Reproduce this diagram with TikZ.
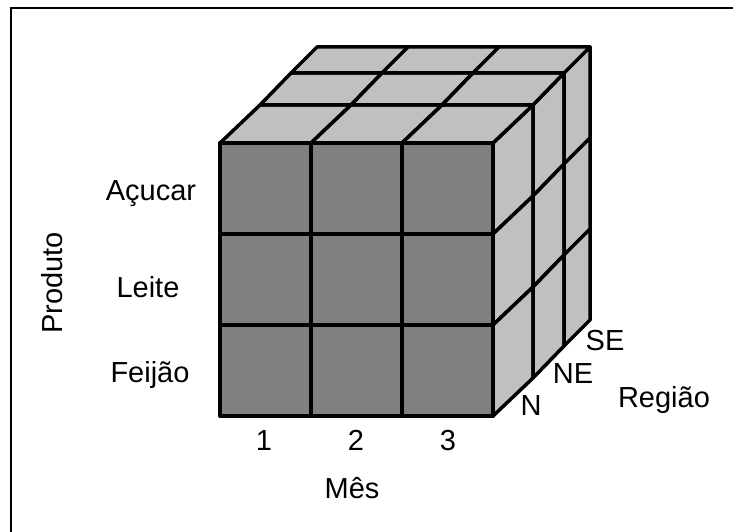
\documentclass[tikz,border=0pt]{standalone}
\usepackage{fontspec}
\setmainfont{Liberation Sans}
\definecolor{frontgray}{HTML}{808080}
\definecolor{facegray}{HTML}{C0C0C0}

\begin{document}
\begin{tikzpicture}[
        x = 1pt, y = -1pt,
   cell/.style = {draw, line width=3.5pt, line join=round},
  front/.style = {cell, line width=4.5pt, fill=frontgray},
   face/.style = {cell, fill=facegray},
    lbl/.style = {inner sep=0pt, anchor=base,
                  font=\fontsize{29}{34}\selectfont}
                    ]
  \useasboundingbox (0,0) rectangle (733,532);
  % frame, only its top and left sides are inside
  \draw[line width=2pt] (11,532) -- (11,8.5) -- (733,8.5);
  % top and right faces, one depth layer at a time
  \foreach \dx/\dy/\nx/\ny in {0/0/40/38, 40/38/71/70, 71/70/97/96}
    \foreach \i in {0,1,2}
    {
      \draw[face] (220+91*\i+\dx,143-\dy) -- ++(91,0)
                  -- (311+91*\i+\nx,143-\ny) -- ++(-91,0) -- cycle;
      \draw[face] (493+\dx,143+91*\i-\dy) -- (493+\nx,143+91*\i-\ny)
                  -- ++(0,91) -- (493+\dx,234+91*\i-\dy) -- cycle;
    }
  % front face
  \foreach \i in {0,1,2}
    \foreach \j in {0,1,2}
      \draw[front] (220+91*\i,143+91*\j) rectangle ++(91,91);

  % products
  \node (acucar)  [lbl] at (151,200) {Açucar};
  \node (leite)   [lbl] at (148,297) {Leite};
  \node (feijao)  [lbl] at (150,382) {Feijão};
  \node (produto) [lbl, rotate=90] at (62,283) {Produto};
  % months
  \foreach \m [count=\i from 0] in {1,2,3}
    \node (mes\m) [lbl] at (264+92*\i,450) {\m};
  \node (mes) [lbl] at (352,498) {Mês};
  % regions
  \node (regN)   [lbl] at (531,415) {N};
  \node (regNE)  [lbl] at (573,383) {NE};
  \node (regSE)  [lbl] at (605,350) {SE};
  \node (regiao) [lbl] at (664,407) {Região};
\end{tikzpicture}
\end{document}
